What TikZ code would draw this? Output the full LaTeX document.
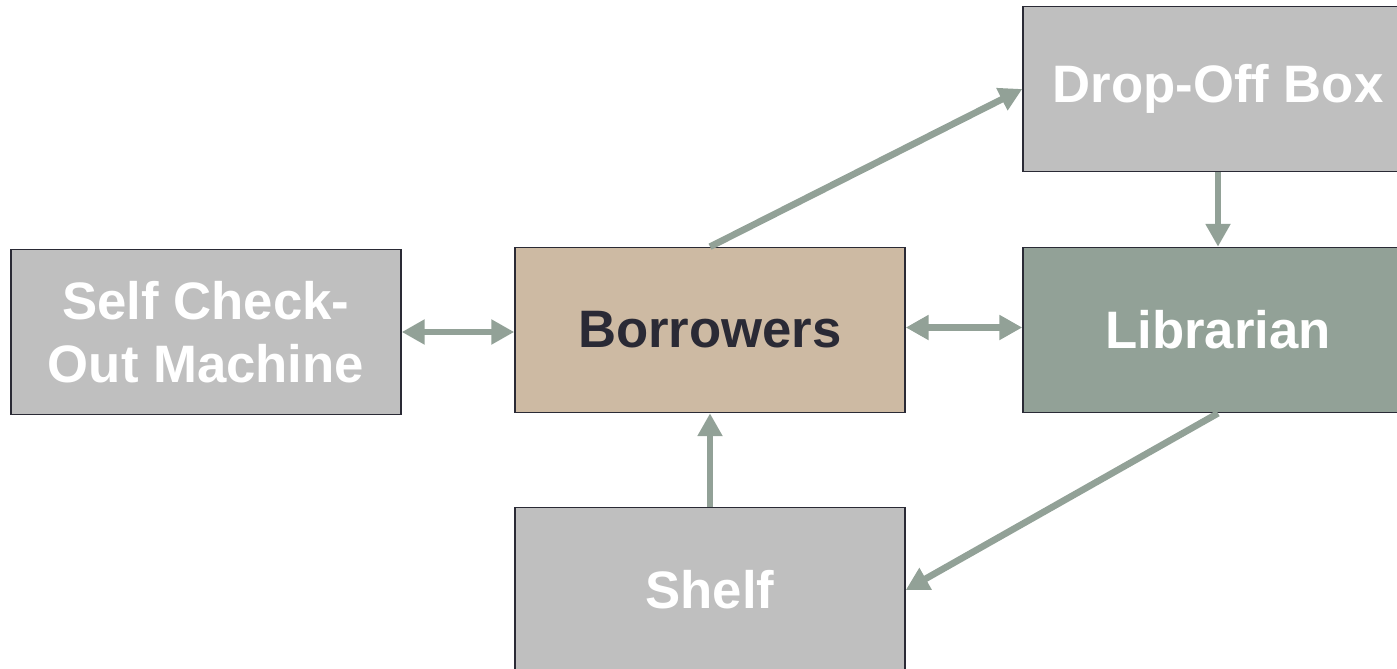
\documentclass[tikz,border=0pt]{standalone}
\usepackage{fontspec}
\setmainfont{Liberation Sans}
\usepackage{tikz}
\usetikzlibrary{arrows.meta}

\definecolor{boxgray}{RGB}{191,191,191}
\definecolor{boxtan}{RGB}{205,186,163}
\definecolor{boxsage}{RGB}{146,161,151}
\definecolor{edgedark}{RGB}{42,42,53}

\begin{document}
\begin{tikzpicture}[x=0.02cm, y=-0.02cm,
    block/.style={draw=edgedark, line width=0.9pt, fill=boxgray,
        minimum width=7.8cm, minimum height=3.3cm, align=center,
        text=white, font=\fontsize{30}{36}\selectfont\bfseries},
    link/.style={draw=boxsage, line width=3.8pt,
        -{Triangle[length=13pt, width=13.5pt]}},
    both/.style={link, {Triangle[length=13pt, width=13.5pt]}-{Triangle[length=13pt, width=13.5pt]}}]
    \useasboundingbox (0,0) rectangle (1397,669);
    \clip (0,0) rectangle (1397,669);

    \node[block] (self) at (206,332) {Self Check-\\Out Machine};
    \node[block, fill=boxtan, text=edgedark] (borrowers) at (710,330) {Borrowers};
    \node[block] (dropoff) at (1218,89) {Drop-Off Box};
    \node[block, fill=boxsage] (librarian) at (1218,330) {Librarian};
    \node[block] (shelf) at (710,590) {Shelf};

    \draw[both] (self.east) -- (self.east -| borrowers.west);
    \draw[both] ([yshift=0.05cm]borrowers.east) -- ([yshift=0.05cm]librarian.west);
    \draw[link] (borrowers.north) -- (dropoff.west);
    \draw[link] (dropoff.south) -- (librarian.north);
    \draw[link] (librarian.south) -- (shelf.east);
    \draw[link] (shelf.north) -- (borrowers.south);
\end{tikzpicture}
\end{document}
